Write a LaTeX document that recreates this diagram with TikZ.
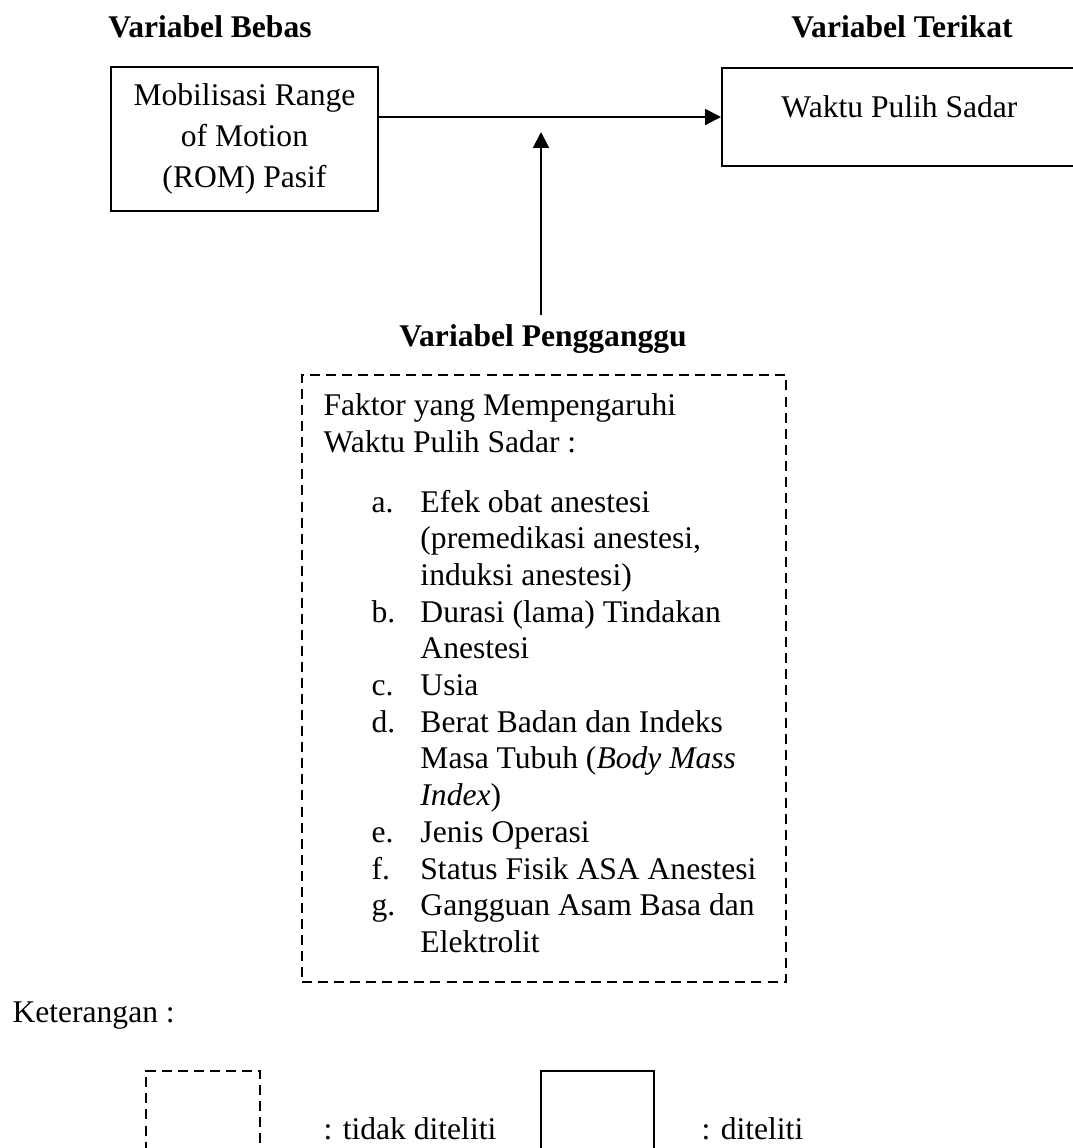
\documentclass[tikz,border=0pt]{standalone}
\usepackage{fontspec}
\setmainfont{Liberation Serif}
\usetikzlibrary{arrows.meta}

\begin{document}
\begin{tikzpicture}[x=0.38pt,y=-0.38pt,
		judul/.style={font=\fontsize{12}{14.4}\selectfont\bfseries},
		teks/.style={font=\fontsize{12}{14.4}\selectfont,inner sep=0pt},
		kotak/.style={draw,line width=0.75pt,inner sep=0pt},
		putus/.style={draw,line width=0.75pt,dash pattern=on 3.8pt off 2.3pt,inner sep=0pt},
		panah/.style={line width=0.75pt,-{Triangle[length=6pt,width=6pt]}}]
	
	\useasboundingbox (0,0) rectangle (1073,1148);
	
	% Judul variabel
	\node[judul] (bebas) at (210,27) {Variabel Bebas};
	\node[judul] (terikat) at (902,27) {Variabel Terikat};
	\node[judul] (pengganggu) at (543,339) {Variabel Pengganggu};
	
	% Kotak variabel bebas dan terikat
	\node[kotak,minimum width=101.5pt,minimum height=54.7pt,align=center,
	font=\fontsize{12}{15.6}\selectfont] (rom) at (244.5,139)
	{Mobilisasi Range\\of Motion\\(ROM) Pasif};
	\node[kotak,minimum width=134.9pt,text height=18.8pt,
	text depth=18.8pt,font=\fontsize{12}{14.4}\selectfont,anchor=base]
	(wps) at (899.5,117) {Waktu Pulih Sadar};
	
	\draw[panah] (rom.east |- wps.west) -- (wps.west);
	
	% Panah dari variabel pengganggu
	\coordinate (ujung) at (541,132);
	\draw[panah] (pengganggu.north -| ujung) -- (ujung);
	
	% Kotak faktor (tidak diteliti)
	\node[putus,minimum width=183.9pt,minimum height=230.7pt] (faktor)
	at (544,678.5) {};
	\node[teks,anchor=base west] (faktorjudul) at (323,415)
	{\begin{tabular}[t]{@{}l@{}}
			Faktor yang Mempengaruhi\\
			Waktu Pulih Sadar :
	\end{tabular}};
	\node[teks,anchor=base west,font=\fontsize{12}{13.95}\selectfont]
	(daftar) at (371,512)
	{\begin{tabular}[t]{@{}p{18.6pt}@{}l@{}}
			a. & Efek obat anestesi\\
			& (premedikasi anestesi,\\
			& induksi anestesi)\\
			b. & Durasi (lama) Tindakan\\
			& Anestesi\\
			c. & Usia\\
			d. & Berat Badan dan Indeks\\
			& Masa Tubuh (\textit{Body Mass}\\
			& \textit{Index})\\
			e. & Jenis Operasi\\
			f. & Status Fisik ASA Anestesi\\
			g. & Gangguan Asam Basa dan\\
			& Elektrolit
	\end{tabular}};
	
	% Keterangan
	\node[teks,anchor=base west] (keterangan) at (12,1022) {Keterangan :};
	\node[putus,minimum width=43.3pt,minimum height=45.2pt] (tidak)
	at (203,1130.5) {};
	\node[teks,anchor=base west] (kettidak) at (323,1139) {: tidak diteliti};
	\node[kotak,minimum width=42.9pt,minimum height=45.2pt] (diteliti)
	at (597.5,1130.5) {};
	\node[teks,anchor=base west] (ketditeliti) at (701,1139) {: diteliti};
	
\end{tikzpicture}
\end{document}
